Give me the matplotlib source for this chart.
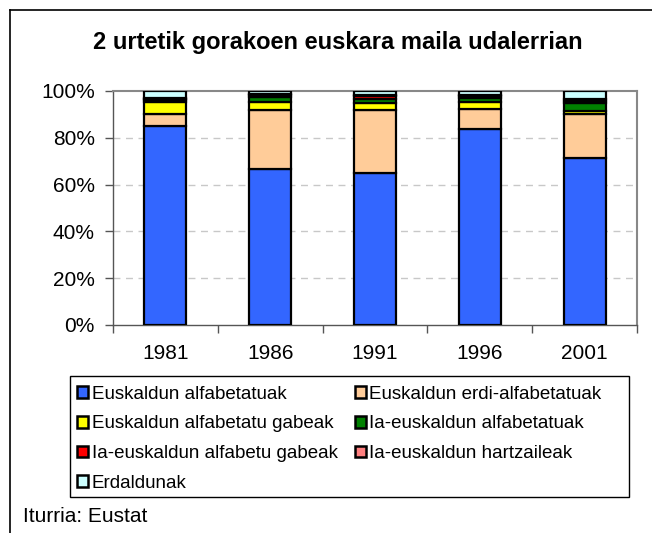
import matplotlib
matplotlib.use("Agg")
import matplotlib.pyplot as plt
from matplotlib.lines import Line2D
from matplotlib.patches import Patch, Rectangle
import numpy as np

plt.rcParams['font.family'] = ['Liberation Sans', 'DejaVu Sans']

years = ["1981", "1986", "1991", "1996", "2001"]
series_names = [
    "Euskaldun alfabetatuak",
    "Euskaldun erdi-alfabetatuak",
    "Euskaldun alfabetatu gabeak",
    "Ia-euskaldun alfabetatuak",
    "Ia-euskaldun alfabetu gabeak",
    "Ia-euskaldun hartzaileak",
    "Erdaldunak",
]
euskaldun_alfabetatuak = [85.0, 66.5, 65.1, 83.8, 71.4]
euskaldun_erdi_alfabetatuak = [5.2, 25.4, 26.8, 8.4, 18.9]
euskaldun_alfabetatu_gabeak = [5.1, 3.4, 3.0, 3.1, 1.2]
ia_euskaldun_alfabetatuak = [0.8, 2.0, 1.6, 1.5, 3.5]
ia_euskaldun_alfabetu_gabeak = [0.4, 1.0, 1.2, 1.0, 0.8]
ia_euskaldun_hartzaileak = [0.3, 0.5, 0.8, 0.7, 0.8]
erdaldunak = [3.2, 1.2, 1.5, 1.5, 3.4]

series = [euskaldun_alfabetatuak, euskaldun_erdi_alfabetatuak, euskaldun_alfabetatu_gabeak,
          ia_euskaldun_alfabetatuak, ia_euskaldun_alfabetu_gabeak, ia_euskaldun_hartzaileak,
          erdaldunak]
colors = ["#3366FF", "#FFCC99", "#FFFF00", "#008000", "#FF0000", "#FF8080", "#CCFFFF"]

W, H = 652, 533
fig = plt.figure(figsize=(W / 100, H / 100), dpi=100)
ax = fig.add_axes([113 / W, 1 - 325 / H, (637 - 113) / W, (325 - 91) / H])

x = np.arange(len(years))
bottom = np.zeros(len(years))
for vals, c in zip(series, colors):
    ax.bar(x, vals, width=0.4, bottom=bottom, color=c, edgecolor="black", linewidth=1.6, zorder=3)
    bottom += np.array(vals)

ax.set_xlim(-0.5, len(years) - 0.5)
ax.set_ylim(0, 100)
ax.set_yticks([0, 20, 40, 60, 80, 100])
ax.set_yticklabels([f"{v}%" for v in [0, 20, 40, 60, 80, 100]])
ax.set_xticks(x)
ax.set_xticklabels(years)
ax.set_xticks(np.arange(-0.5, len(years), 1.0), minor=True)
ax.tick_params(axis='x', which='major', length=0, pad=14, labelsize=15)
ax.tick_params(axis='x', which='minor', length=6, width=1, color="#555555", direction='out')
ax.tick_params(axis='y', length=6, width=1, color="#555555", direction='out', labelsize=15, pad=7)

for yv in [20, 40, 60, 80]:
    ax.axhline(yv, color="#C8C8C8", linestyle=(0, (5, 4)), linewidth=1, zorder=1)

for s in ['top', 'right']:
    ax.spines[s].set_color("#888888")
    ax.spines[s].set_linewidth(1.5)
for s in ['left', 'bottom']:
    ax.spines[s].set_color("#555555")
    ax.spines[s].set_linewidth(1)

fig.text(338 / W, 1 - 49 / H, "2 urtetik gorakoen euskara maila udalerrian",
         ha='center', va='baseline', fontsize=17, fontweight='bold')

# outer frame (left and top edges visible)
fig.add_artist(Line2D([10 / W, 10 / W], [0, 1 - 10 / H], transform=fig.transFigure,
                      color="black", linewidth=1.2))
fig.add_artist(Line2D([10 / W, 1], [1 - 10 / H, 1 - 10 / H], transform=fig.transFigure,
                      color="black", linewidth=1.2))

# legend box
fig.add_artist(Rectangle((70 / W, 1 - 497 / H), (629 - 70) / W, (497 - 376) / H,
                         transform=fig.transFigure, facecolor="white", edgecolor="black",
                         linewidth=1, zorder=2))

handles = [Patch(facecolor=c, edgecolor="black", linewidth=1.8) for c in colors]
order = [0, 2, 4, 6, 1, 3, 5]
leg = fig.legend([handles[i] for i in order], [series_names[i] for i in order],
                 loc='upper left', bbox_to_anchor=(70 / W, 1 - 379 / H),
                 ncol=2, fontsize=13.5, frameon=False,
                 handlelength=0.59, handleheight=0.59, handletextpad=0.2,
                 labelspacing=0.67, borderaxespad=0, borderpad=0.37, columnspacing=0.9)
leg.set_zorder(3)

fig.text(23 / W, 1 - 522 / H, "Iturria: Eustat", ha='left', va='baseline', fontsize=15)

fig.savefig("out.png", dpi=100, facecolor="white")
